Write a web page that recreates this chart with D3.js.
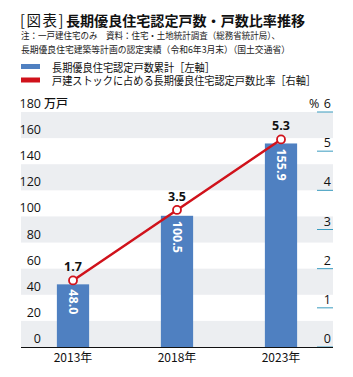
<!DOCTYPE html>
<html><head><meta charset="utf-8">
<script src="https://cdn.jsdelivr.net/npm/d3@7"></script>
<style>body{margin:0;background:#fff;font-family:"Noto Sans CJK JP","Noto Sans",sans-serif;}</style>
</head><body><svg id="c" width="353" height="377"></svg>
<script>
const categories = ["2013年","2018年","2023年"];
const cumulative = [48.0, 100.5, 155.9];
const ratio = [1.7, 3.5, 5.3];
const leftTicks = [0,20,40,60,80,100,120,140,160,180];
const rightTicks = [0,1,2,3,4,5,6];
const legendLabels = ["長期優良住宅認定戸数累計［左軸］","戸建ストックに占める長期優良住宅認定戸数比率［右軸］"];

const svg = d3.select("#c");
const F = '"Noto Sans CJK JP", sans-serif';
const NUMF = '"Open Sans","Noto Sans",sans-serif';
const blue = "#4f80c1", red = "#d0121b";
const x0 = 21, x1 = 333, yTop = 112, yBot = 347;

// Header block (title + notes)
const hdr = svg.append("text").attr("font-family",F).attr("fill","#111");
hdr.append("tspan").attr("x",20).attr("y",26).attr("font-size",14.5).attr("font-weight",400)
  .attr("letter-spacing",1.5).text("[図表]");
hdr.append("tspan").attr("x",66).attr("y",26).attr("font-size",14).attr("font-weight",700)
  .attr("textLength",239).attr("lengthAdjust","spacingAndGlyphs").text("長期優良住宅認定戸数・戸数比率推移");
hdr.append("tspan").attr("x",21).attr("y",39).attr("font-size",9.3).attr("fill","#222")
  .attr("textLength",259).attr("lengthAdjust","spacingAndGlyphs")
  .text("注：一戸建住宅のみ　資料：住宅・土地統計調査（総務省統計局）、");
hdr.append("tspan").attr("x",21).attr("y",53).attr("font-size",9.3).attr("fill","#222")
  .attr("textLength",269).attr("lengthAdjust","spacingAndGlyphs")
  .text("長期優良住宅建築等計画の認定実績（令和6年3月末）（国土交通省）");

// legend
const legW = [163, 264];
const leg = svg.append("text").attr("font-family",F).attr("font-size",11.5).attr("fill","#111");
[blue, red].forEach((c,i)=>{
  svg.append("rect").attr("x",21).attr("y",64+i*13.5).attr("width",19).attr("height",5).attr("fill",c);
  leg.append("tspan").attr("x",52).attr("y",71.5+i*13.5)
    .attr("textLength",legW[i]).attr("lengthAdjust","spacingAndGlyphs").text(legendLabels[i]);
});

const y = d3.scaleLinear().domain([0,180]).range([yBot,yTop]);
const yr = d3.scaleLinear().domain([0,6]).range([yBot,yTop]);
const x = d3.scaleBand().domain(categories).range([x0,x1]).paddingInner(0.69).paddingOuter(0.345);

// bands
for (let v=0; v<180; v+=40) {
  svg.append("rect").attr("x",x0).attr("width",x1-x0).attr("y",y(v+20)).attr("height",y(v)-y(v+20)).attr("fill","#eceef1");
}
// left labels
leftTicks.forEach(v=>{
  svg.append("text").attr("x",41).attr("y",y(v)-4).attr("text-anchor","end").attr("font-family",NUMF).attr("font-size",12.5).attr("fill","#111").text(v);
});
svg.append("text").attr("x",44).attr("y",y(180)-4).attr("font-family",F).attr("font-size",12).attr("font-weight",500).attr("fill","#111").text("万戸");
// right labels
rightTicks.forEach(v=>{
  svg.append("line").attr("x1",317).attr("x2",333).attr("y1",yr(v)).attr("y2",yr(v)).attr("stroke","#3a9cbf").attr("stroke-width",1);
  svg.append("text").attr("x",331).attr("y",yr(v)-4).attr("text-anchor","end").attr("font-family",NUMF).attr("font-size",12.5).attr("fill","#111").text(v);
});
svg.append("text").attr("x",309).attr("y",yr(6)-4).attr("font-family",NUMF).attr("font-size",12.5).attr("fill","#111").text("%");

// bars
categories.forEach((c,i)=>{
  svg.append("rect").attr("x",x(c)).attr("width",x.bandwidth()).attr("y",y(cumulative[i])).attr("height",yBot-y(cumulative[i])).attr("fill",blue);
  const cx = x(c)+x.bandwidth()/2, ty = y(cumulative[i])+5;
  svg.append("text").attr("transform",`translate(${cx-4.5},${ty}) rotate(90)`).attr("font-family",NUMF).attr("font-weight",700).attr("font-size",12.5).attr("fill","#fff").text(cumulative[i].toFixed(1));
});
// axis line
svg.append("line").attr("x1",x0).attr("x2",x1).attr("y1",yBot+0.5).attr("y2",yBot+0.5).attr("stroke","#111").attr("stroke-width",1);
categories.forEach(c=>{
  svg.append("text").attr("x",x(c)+x.bandwidth()/2).attr("y",362).attr("text-anchor","middle").attr("font-family",F).attr("font-size",12).attr("fill","#111").text(c);
});
// line
const pts = categories.map((c,i)=>[x(c)+x.bandwidth()/2, yr(ratio[i])]);
svg.append("path").attr("d",d3.line()(pts)).attr("fill","none").attr("stroke",red).attr("stroke-width",2.5);
pts.forEach((p,i)=>{
  svg.append("circle").attr("cx",p[0]).attr("cy",p[1]).attr("r",4).attr("fill","#fff").attr("stroke",red).attr("stroke-width",1.8);
  svg.append("text").attr("x",p[0]).attr("y",p[1]-9).attr("text-anchor","middle").attr("font-family",NUMF).attr("font-weight",700).attr("font-size",12.5).attr("fill","#111").text(ratio[i].toFixed(1));
});
</script></body></html>
